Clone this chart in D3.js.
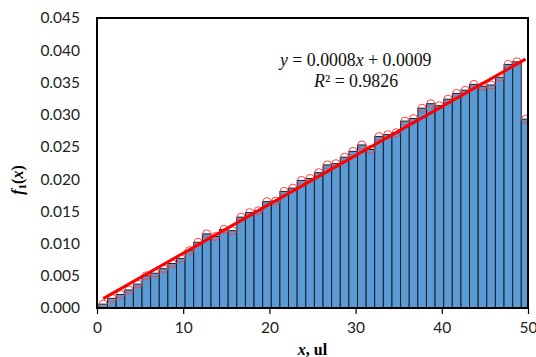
<!DOCTYPE html>
<html>
<head>
<meta charset="utf-8">
<script src="https://cdn.jsdelivr.net/npm/d3@7"></script>
<style>
  body { margin: 0; background: #fff; }
  svg { display: block; }
</style>
</head>
<body>
<div id="chart"></div>
<script>
// bin values f1(x), one per unit bin (bin i centred near i + 0.72)
const binIndex = d3.range(50);
const freq = [
  0.0006, 0.0015, 0.0021, 0.0028, 0.0037, 0.0050, 0.0054, 0.0061, 0.0069, 0.0077,
  0.0089, 0.0102, 0.0115, 0.0111, 0.0122, 0.0120, 0.0141, 0.0148, 0.0151, 0.0165,
  0.0166, 0.0181, 0.0186, 0.0198, 0.0201, 0.0210, 0.0222, 0.0224, 0.0234, 0.0243,
  0.0253, 0.0246, 0.0266, 0.0269, 0.0272, 0.0290, 0.0294, 0.0310, 0.0317, 0.0314,
  0.0324, 0.0333, 0.0338, 0.0347, 0.0344, 0.0346, 0.0358, 0.0378, 0.0382, 0.0293
];
const xTicks = [0, 10, 20, 30, 40, 50];
const yTicks = [0, 0.005, 0.010, 0.015, 0.020, 0.025, 0.030, 0.035, 0.040, 0.045];
const eqLine = ["y", " = 0.0008", "x", " + 0.0009"];
const r2Line = ["R", "² = 0.9826"];

const width = 536, height = 357;
const m = { left: 97, right: 528, top: 18, bottom: 308 };
const offset = 0.72;

const x = d3.scaleLinear().domain([0, 50]).range([m.left, m.right]);
const y = d3.scaleLinear().domain([0, 0.045]).range([m.bottom, m.top]);

const svg = d3.select("#chart").append("svg")
  .attr("width", width)
  .attr("height", height);

svg.append("clipPath").attr("id", "plot-clip")
  .append("rect")
  .attr("x", m.left).attr("y", m.top)
  .attr("width", m.right - m.left).attr("height", m.bottom - m.top);

const plot = svg.append("g").attr("clip-path", "url(#plot-clip)");

// bars
plot.selectAll("rect.bar")
  .data(binIndex)
  .join("rect")
  .attr("class", "bar")
  .attr("x", i => x(i + offset - 0.5))
  .attr("y", i => y(freq[i]))
  .attr("width", x(1) - x(0))
  .attr("height", i => m.bottom - y(freq[i]))
  .attr("fill", "#5b9bd5")
  .attr("stroke", "#15202b")
  .attr("stroke-width", 1);

// least squares trendline
const pts = binIndex.map(i => [i + offset, freq[i]]);
const mx = d3.mean(pts, d => d[0]), my = d3.mean(pts, d => d[1]);
const slope = d3.sum(pts, d => (d[0] - mx) * (d[1] - my)) / d3.sum(pts, d => (d[0] - mx) ** 2);
const icpt = my - slope * mx;
const x0 = pts[0][0], x1 = pts[pts.length - 1][0];

// circles
plot.selectAll("circle.pt")
  .data(pts)
  .join("circle")
  .attr("class", "pt")
  .attr("cx", d => x(d[0]))
  .attr("cy", d => y(d[1]))
  .attr("r", 4)
  .attr("fill", "none")
  .attr("stroke", "#ff4040")
  .attr("stroke-width", 1);

plot.append("line")
  .attr("x1", x(x0)).attr("y1", y(icpt + slope * x0))
  .attr("x2", x(x1)).attr("y2", y(icpt + slope * x1))
  .attr("stroke", "#ff0000")
  .attr("stroke-width", 3);

// frame
svg.append("rect")
  .attr("x", m.left).attr("y", m.top)
  .attr("width", m.right - m.left).attr("height", m.bottom - m.top)
  .attr("fill", "none")
  .attr("stroke", "#000")
  .attr("stroke-width", 2);

// axes
const xAxis = svg.append("g")
  .attr("transform", `translate(0,${m.bottom})`)
  .call(d3.axisBottom(x).tickValues(xTicks).tickSize(6).tickPadding(8).tickFormat(d3.format("d")));
xAxis.select(".domain").remove();
xAxis.selectAll("line").attr("stroke", "#000").attr("stroke-width", 1.2);
xAxis.selectAll("text")
  .attr("font-family", "Lato, 'Open Sans', sans-serif")
  .attr("font-size", 15.5)
  .attr("fill", "#222");

const yAxis = svg.append("g")
  .attr("transform", `translate(${m.left},0)`)
  .call(d3.axisLeft(y).tickValues(yTicks).tickSize(0).tickPadding(17).tickFormat(d3.format(".3f")));
yAxis.select(".domain").remove();
yAxis.selectAll("text")
  .attr("font-family", "Lato, 'Open Sans', sans-serif")
  .attr("font-size", 15.5)
  .attr("fill", "#222");

// axis titles
const xt = svg.append("text")
  .attr("x", (m.left + m.right) / 2).attr("y", 355)
  .attr("text-anchor", "middle")
  .attr("font-family", "'Liberation Serif', serif")
  .attr("font-weight", "bold")
  .attr("font-size", 16);
xt.append("tspan").attr("font-style", "italic").text("x");
xt.append("tspan").text(", ul");

const yt = svg.append("text")
  .attr("transform", "translate(23,180) rotate(-90)")
  .attr("text-anchor", "middle")
  .attr("font-family", "'Liberation Serif', serif")
  .attr("font-weight", "bold")
  .attr("font-size", 16);
yt.append("tspan").attr("font-style", "italic").text("f");
yt.append("tspan").attr("font-size", 11).attr("dy", 3).text("1");
yt.append("tspan").attr("dy", -3).text("(");
yt.append("tspan").attr("font-style", "italic").text("x");
yt.append("tspan").text(")");

// trendline label
const eq = svg.append("text")
  .attr("x", 280).attr("y", 66)
  .attr("font-family", "'Liberation Serif', serif")
  .attr("font-size", 17.8)
  .attr("fill", "#111");
eq.selectAll("tspan").data(eqLine).join("tspan")
  .attr("font-style", (d, i) => i % 2 === 0 ? "italic" : "normal")
  .text(d => d);

const r2 = svg.append("text")
  .attr("x", 314).attr("y", 87)
  .attr("font-family", "'Liberation Serif', serif")
  .attr("font-size", 17.8)
  .attr("fill", "#111");
r2.selectAll("tspan").data(r2Line).join("tspan")
  .attr("font-style", (d, i) => i === 0 ? "italic" : "normal")
  .text(d => d);
</script>
</body>
</html>
